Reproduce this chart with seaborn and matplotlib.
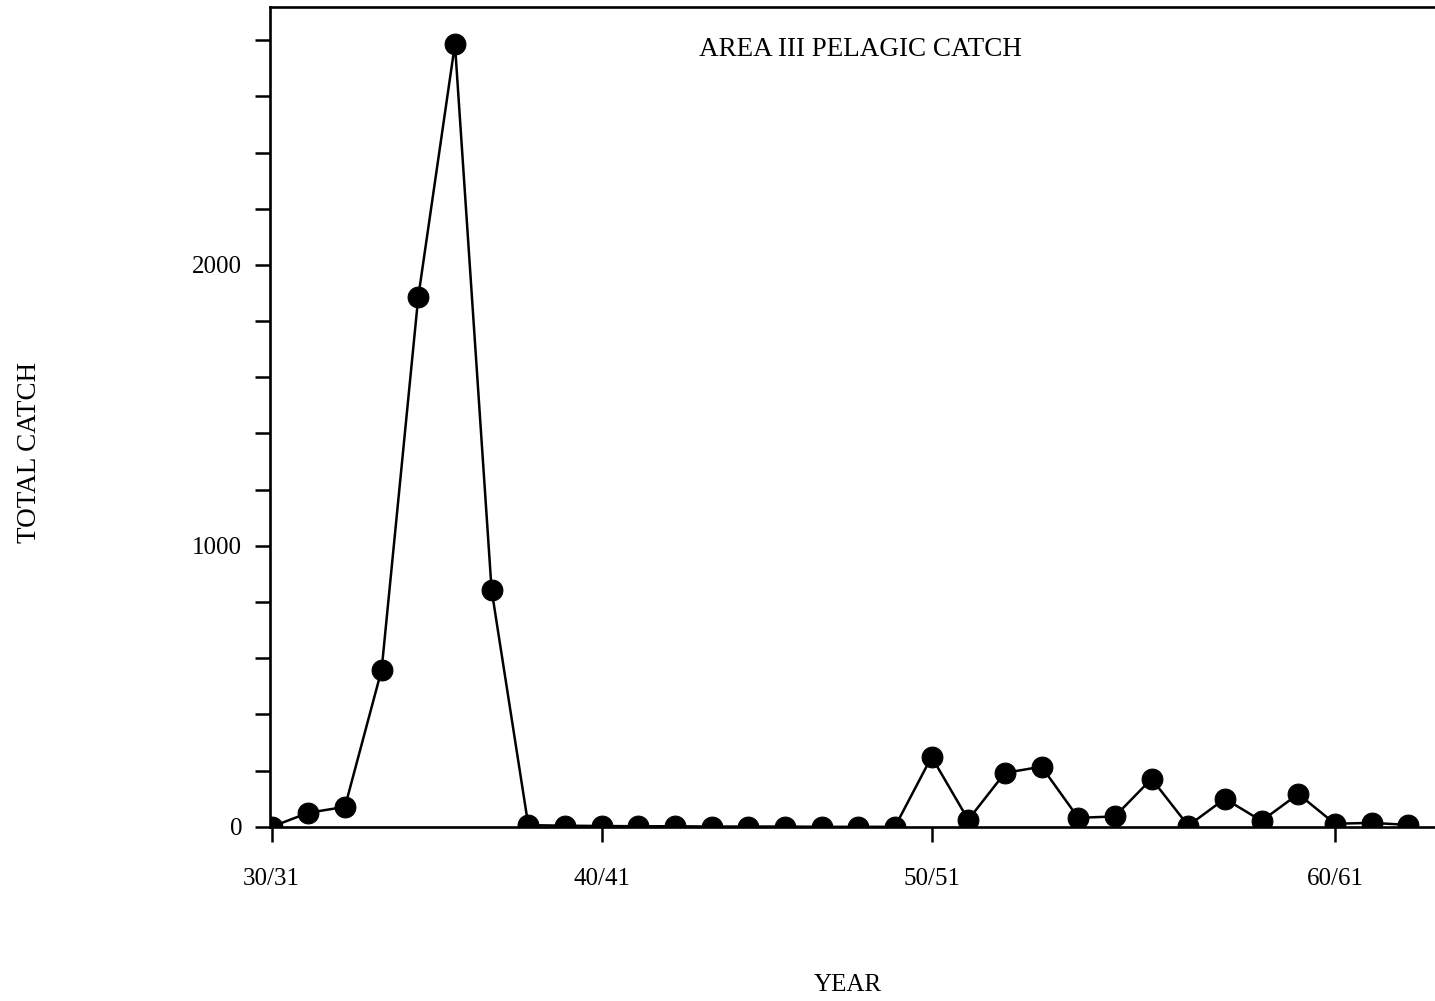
import matplotlib
matplotlib.use("Agg")
import matplotlib.pyplot as plt
import seaborn as sns
import pandas as pd
from matplotlib.ticker import FixedLocator, FixedFormatter

# Pelagic catch by season, one point per season starting 30/31
season_index = list(range(32))
total_catch = [0, 50, 71, 559, 1886, 2786, 843, 6,
               4, 3, 2, 2, 1, 1, 1, 0,
               0, 0, 249, 25, 192, 214, 32, 37,
               171, 4, 100, 21, 117, 11, 14, 7]

tick_positions = [0, 9, 18, 29]
tick_labels = ["30/31", "40/41", "50/51", "60/61"]

y_ticks = [0, 200, 400, 600, 800, 1000, 1200, 1400, 1600, 1800,
           2000, 2200, 2400, 2600, 2800]
y_labels = ["0", "", "", "", "", "1000", "", "", "", "",
            "2000", "", "", "", ""]

df = pd.DataFrame({"season": season_index, "catch": total_catch})

sns.set_theme(style="white")
plt.rcParams["font.family"] = ["Liberation Serif", "DejaVu Serif"]

fig = plt.figure(figsize=(14.35, 10.01), dpi=100)
ax = fig.add_axes([0.188, 0.174, 0.812, 0.819])

sns.lineplot(data=df, x="season", y="catch", ax=ax, color="black",
             linewidth=1.8, marker="o", markersize=15,
             markeredgecolor="black", markerfacecolor="black")

ax.set_xlim(-0.05, 31.73)
ax.set_ylim(0, 2918)

ax.xaxis.set_major_locator(FixedLocator(tick_positions))
ax.xaxis.set_major_formatter(FixedFormatter(tick_labels))
ax.yaxis.set_major_locator(FixedLocator(y_ticks))
ax.yaxis.set_major_formatter(FixedFormatter(y_labels))

ax.tick_params(axis="both", direction="out", length=11, width=1.8,
               color="black", labelsize=18, labelcolor="black",
               bottom=True, left=True)
ax.tick_params(axis="x", pad=19)
ax.tick_params(axis="y", pad=9)

for side in ["left", "bottom", "top"]:
    ax.spines[side].set_visible(True)
    ax.spines[side].set_color("black")
    ax.spines[side].set_linewidth(1.9)
ax.spines["right"].set_visible(False)

ax.set_xlabel("")
ax.set_ylabel("")

ax.text(0.507, 0.948, "AREA III PELAGIC CATCH", transform=ax.transAxes,
        ha="center", va="center", fontsize=19.5, color="black")
fig.text(848 / 1435, 1 - 985 / 1001, "YEAR", ha="center", va="center",
         fontsize=18, color="black")
fig.text(30 / 1435, 1 - 452 / 1001, "TOTAL CATCH", ha="center",
         va="center", rotation=90, fontsize=19.5, color="black")

fig.savefig("out.png", dpi=100, facecolor="white")
